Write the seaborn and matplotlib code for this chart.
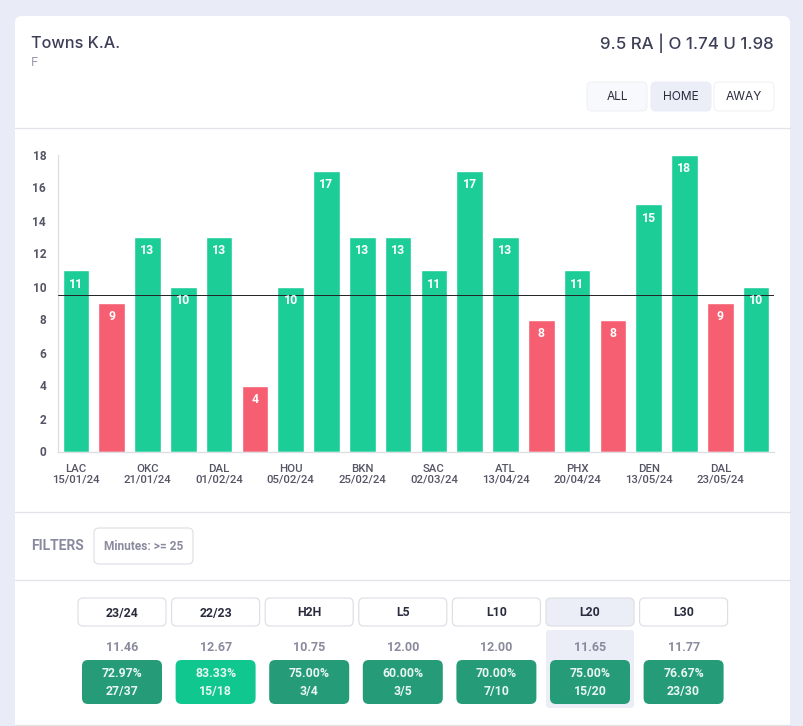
# Import libraries
import matplotlib
matplotlib.use("Agg")
import matplotlib.pyplot as plt
from matplotlib.patches import FancyBboxPatch
import pandas as pd
import seaborn as sns

# Chart data
values = [11, 9, 13, 10, 13, 4, 10, 17, 13, 13, 11, 17, 13, 8, 11, 8, 15, 18, 9, 10]
teams = ["LAC", "", "OKC", "", "DAL", "", "HOU", "", "BKN", "", "SAC", "", "ATL", "", "PHX", "", "DEN", "", "DAL", ""]
dates = ["15/01/24", "", "21/01/24", "", "01/02/24", "", "05/02/24", "", "25/02/24", "", "02/03/24", "",
         "13/04/24", "", "20/04/24", "", "13/05/24", "", "23/05/24", ""]
line_value = 9.5
y_ticks = [0, 2, 4, 6, 8, 10, 12, 14, 16, 18]

# Table data
periods = ["23/24", "22/23", "H2H", "L5", "L10", "L20", "L30"]
averages = ["11.46", "12.67", "10.75", "12.00", "12.00", "11.65", "11.77"]
percents = ["72.97%", "83.33%", "75.00%", "60.00%", "70.00%", "75.00%", "76.67%"]
fractions = ["27/37", "15/18", "3/4", "3/5", "7/10", "15/20", "23/30"]

# Colours
PAGE = "#e9ebf6"
GREEN = "#1ccd98"
RED = "#f65f72"
DARK_TEXT = "#3c3f57"
GREY_TEXT = "#8a8a9e"
LINE = "#e1e3e8"

sns.set_theme(style="white")
plt.rcParams["font.family"] = ["Roboto", "DejaVu Sans"]

fig = plt.figure(figsize=(8.04, 7.26), dpi=100, facecolor=PAGE)

# Pixel canvas for the card around the chart
bg = fig.add_axes([0, 0, 1, 1], zorder=0)
bg.set_xlim(0, 804)
bg.set_ylim(726, 0)
bg.axis("off")


def round_box(x0, y0, x1, y1, face="white", edge="none", rad=5, lw=0.8):
    bg.add_patch(FancyBboxPatch((x0 + rad, y0 + rad), x1 - x0 - 2 * rad, y1 - y0 - 2 * rad,
                                boxstyle=f"round,pad={rad},rounding_size={rad}",
                                facecolor=face, edgecolor=edge, linewidth=lw))


round_box(15, 16, 790, 760, rad=7)
for y in [128, 512, 580, 725]:
    bg.plot([15, 790], [y, y], color=LINE, lw=0.9)

# Header
bg.text(31, 43, "Towns K.A.", family="Inter", fontsize=11.7, fontweight="medium", color=DARK_TEXT, va="center", ha="left")
bg.text(31, 63, "F", family="Inter", fontsize=9, color="#9a9aac", va="center", ha="left")
bg.text(774, 43, "9.5 RA | O 1.74 U 1.98", family="Inter", fontsize=12.2, fontweight="medium", color=DARK_TEXT, va="center", ha="right")

round_box(587, 82, 647, 111, face="#f8f9fc", edge="#f0f1f6", rad=5)
round_box(651, 82, 711, 111, face="#eceef7", edge="#eceef7", rad=5)
round_box(714, 82, 774, 111, face="white", edge="#f0f1f6", rad=5)
for cx, label in zip([617, 681, 744], ["ALL", "HOME", "AWAY"]):
    bg.text(cx, 97.5, label, family="Inter", fontsize=8.6, color="#2a2c3e", va="center", ha="center")

# Bar chart
ax = fig.add_axes([58 / 804, 1 - 451.5 / 726, 716 / 804, 297 / 726], zorder=2)
ax.patch.set_alpha(0)
df = pd.DataFrame({"pos": range(len(values)), "value": values})
df["over"] = df["value"] > line_value
sns.barplot(data=df, x="pos", y="value", hue="over", palette={True: GREEN, False: RED},
            dodge=False, width=0.74, legend=False, ax=ax, saturation=1)
ax.set_xlim(-0.5, 19.5)
ax.set_ylim(0, 18)
ax.set_xlabel("")
ax.set_ylabel("")
ax.set_yticks(y_ticks)
ax.set_xticks(range(len(values)))
ax.set_xticklabels([f"{t}\n{d}" if t else "" for t, d in zip(teams, dates)],
                   fontsize=8.2, fontweight="medium", color="#555566", linespacing=1.1)
ax.tick_params(axis="x", length=0, pad=9)
ax.tick_params(axis="y", length=0, pad=8.5, labelsize=8.6, labelcolor="#555566")
for lab in ax.get_yticklabels():
    lab.set_fontweight("bold")
for name in ["top", "right"]:
    ax.spines[name].set_visible(False)
for name in ["left", "bottom"]:
    ax.spines[name].set_color("#dcdee4")
    ax.spines[name].set_linewidth(0.9)
ax.axhline(line_value, color="#222222", lw=0.7, zorder=5)
for i, v in enumerate(values):
    ax.annotate(str(v), (i, v), xytext=(0, -14), textcoords="offset pixels", ha="center", va="center",
                fontsize=8.8, fontweight="bold", color="white", zorder=6)

# Filters row
bg.text(31, 546, "FILTERS", fontsize=10, fontweight="bold", color=GREY_TEXT, va="center", ha="left")
round_box(94, 528, 193, 564, edge="#dcdde4", rad=5)
bg.text(143.5, 547, "Minutes: >= 25", fontsize=8.6, fontweight="bold", color=GREY_TEXT, va="center", ha="center")

# Period table
for i, period in enumerate(periods):
    cx = 122 + i * 93.6
    active = period == "L20"
    if active:
        round_box(cx - 44, 630, cx + 44, 708, face="#eceef7", rad=3)
    round_box(cx - 44, 598, cx + 44, 626, face="#eceef7" if active else "white", edge="#dcdde4", rad=5)
    bg.text(cx, 613, period, fontsize=8.8, fontweight="bold", color="#2a2c3e", va="center", ha="center")
    bg.text(cx, 647.5, averages[i], fontsize=9, fontweight="bold", color=GREY_TEXT, va="center", ha="center")
    box_color = "#10c78f" if period == "22/23" else "#259b77"
    round_box(cx - 40, 660, cx + 40, 704, face=box_color, rad=6)
    bg.text(cx, 673.5, percents[i], fontsize=8.8, fontweight="bold", color="#e8f6f1", va="center", ha="center")
    bg.text(cx, 691.5, fractions[i], fontsize=8.8, fontweight="bold", color="#e8f6f1", va="center", ha="center")

fig.savefig("out.png", dpi=100, facecolor=PAGE)
